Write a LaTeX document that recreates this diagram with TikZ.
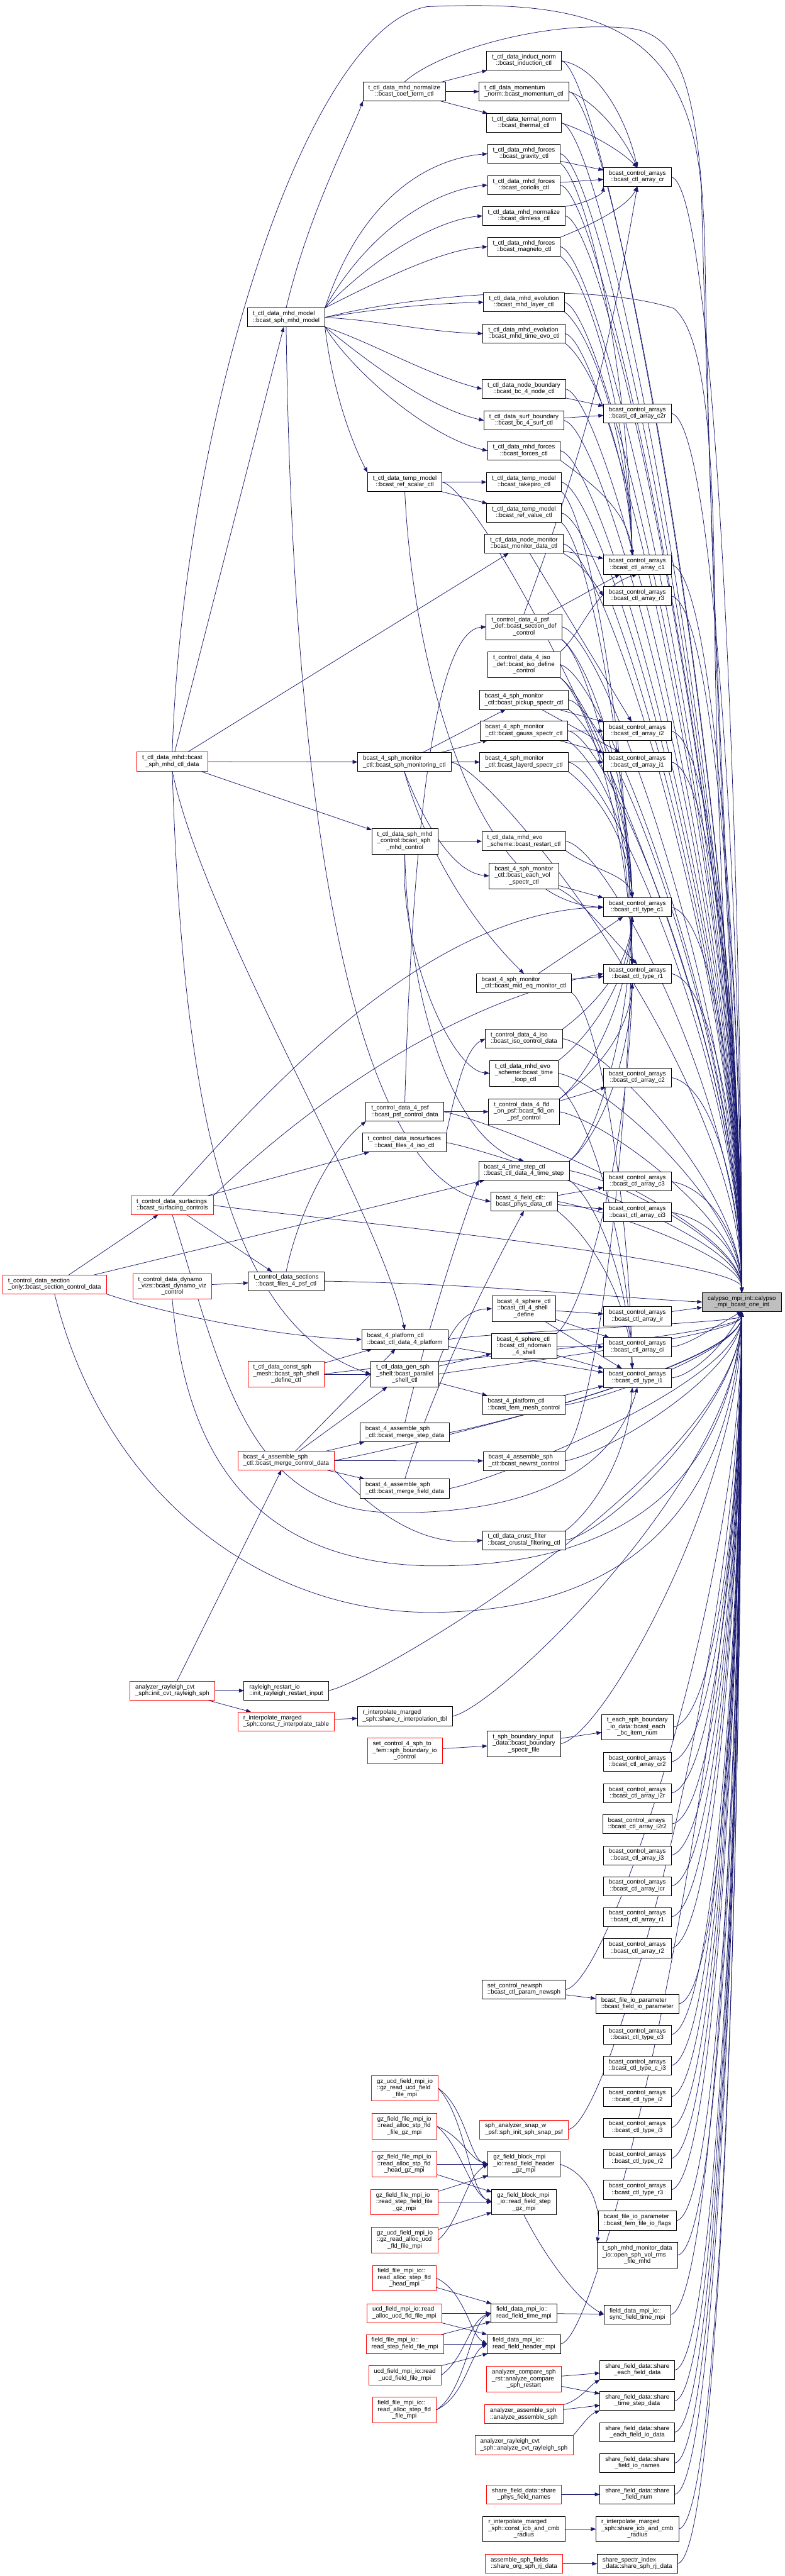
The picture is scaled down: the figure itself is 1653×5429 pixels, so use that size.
\documentclass[tikz,border=0pt]{standalone}
\usepackage{fontspec}
\setmainfont{Liberation Sans}
\usetikzlibrary{arrows.meta,calc}
\definecolor{edgec}{HTML}{191970}
\definecolor{redc}{HTML}{FF0000}
\definecolor{grayc}{HTML}{BFBFBF}
\newcommand\twol[2]{\begin{tabular}{@{}l@{}}#1\\\multicolumn{1}{@{}c@{}}{#2}\end{tabular}}
\newcommand\threel[3]{\begin{tabular}{@{}l@{}}#1\\#2\\\multicolumn{1}{@{}c@{}}{#3}\end{tabular}}
\newcommand\tocalA[1]{\draw[ed] let \p1=(#1.east), \p2=(cal.north) in (\p1) .. controls ($(\p1)+(70pt,-12pt)$) and (\x2,{0.6*\y2+0.4*\y1}) .. (\p2);}
\newcommand\tocalB[1]{\draw[ed] let \p1=(#1.east), \p2=(cal.south) in (\p1) .. controls ($(\p1)+(70pt,12pt)$) and (\x2,{0.6*\y2+0.4*\y1}) .. (\p2);}
\newcommand\dnto[2]{\draw[ed] let \p1=(#1.south east), \p2=(#2.north) in (\p1) .. controls ($(\p1)+(40pt,-30pt)$) and ({\x2-15pt},{0.5*\y1+0.5*\y2}) .. ({\x2-8pt},\y2);}
\newcommand\upto[2]{\draw[ed] let \p1=(#1.north east), \p2=(#2.south) in (\p1) .. controls ($(\p1)+(40pt,30pt)$) and ({\x2-15pt},{0.5*\y1+0.5*\y2}) .. ({\x2-8pt},\y2);}
\pgfdeclarelayer{bg}
\pgfdeclarelayer{edges}
\pgfsetlayers{bg,edges,main}
\begin{document}
\begin{tikzpicture}[x=0.75pt,y=0.75pt,
 nd/.style={draw=black,fill=white,line width=0.75pt,inner xsep=8.5pt,inner ysep=4.6pt,outer sep=0pt,font=\fontsize{9.7}{10.4}\selectfont},
 rd/.style={nd,draw=redc},
 ed/.style={draw=edgec,line width=0.75pt,-{Triangle[length=8pt,width=6pt]}}]
\begin{pgfonlayer}{bg}\fill[white] (0,0) rectangle (1653,-5429);\end{pgfonlayer}
\useasboundingbox (0,0) rectangle (1653,-5429);
% ---- root
\node[nd,fill=grayc] (cal) at (1563,-2744) {\twol{calypso\_mpi\_int::calypso}{\_mpi\_bcast\_one\_int}};
% ---- column F
\node[nd] (cr) at (1343,-373) {\twol{bcast\_control\_arrays}{::bcast\_ctl\_array\_cr}};
\node[nd] (ctwor) at (1343,-871) {\twol{bcast\_control\_arrays}{::bcast\_ctl\_array\_c2r}};
\node[nd] (cone) at (1343,-1190) {\twol{bcast\_control\_arrays}{::bcast\_ctl\_array\_c1}};
\node[nd] (rthree) at (1343,-1256) {\twol{bcast\_control\_arrays}{::bcast\_ctl\_array\_r3}};
\node[nd] (itwo) at (1343,-1541) {\twol{bcast\_control\_arrays}{::bcast\_ctl\_array\_i2}};
\node[nd] (ione) at (1343,-1606) {\twol{bcast\_control\_arrays}{::bcast\_ctl\_array\_i1}};
\node[nd] (tcone) at (1343,-1912) {\twol{bcast\_control\_arrays}{::bcast\_ctl\_type\_c1}};
\node[nd] (trone) at (1343,-2052) {\twol{bcast\_control\_arrays}{::bcast\_ctl\_type\_r1}};
\node[nd] (ctwo) at (1343,-2271) {\twol{bcast\_control\_arrays}{::bcast\_ctl\_array\_c2}};
\node[nd] (cthree) at (1343,-2490) {\twol{bcast\_control\_arrays}{::bcast\_ctl\_array\_c3}};
\node[nd] (cithree) at (1343,-2555) {\twol{bcast\_control\_arrays}{::bcast\_ctl\_array\_ci3}};
\node[nd] (ir) at (1343,-2774) {\twol{bcast\_control\_arrays}{::bcast\_ctl\_array\_ir}};
\node[nd] (ci) at (1343,-2839) {\twol{bcast\_control\_arrays}{::bcast\_ctl\_array\_ci}};
\node[nd] (tione) at (1343,-2904) {\twol{bcast\_control\_arrays}{::bcast\_ctl\_type\_i1}};
\node[nd] (bcitem) at (1343,-3640) {\threel{t\_each\_sph\_boundary}{\_io\_data::bcast\_each}{\_bc\_item\_num}};
\node[nd] (crtwo) at (1343,-3713) {\twol{bcast\_control\_arrays}{::bcast\_ctl\_array\_cr2}};
\node[nd] (itwor) at (1343,-3779) {\twol{bcast\_control\_arrays}{::bcast\_ctl\_array\_i2r}};
\node[nd] (itwortwo) at (1343,-3844) {\twol{bcast\_control\_arrays}{::bcast\_ctl\_array\_i2r2}};
\node[nd] (ithree) at (1343,-3910) {\twol{bcast\_control\_arrays}{::bcast\_ctl\_array\_i3}};
\node[nd] (icr) at (1343,-3975) {\twol{bcast\_control\_arrays}{::bcast\_ctl\_array\_icr}};
\node[nd] (rone) at (1343,-4040) {\twol{bcast\_control\_arrays}{::bcast\_ctl\_array\_r1}};
\node[nd] (rtwo) at (1343,-4106) {\twol{bcast\_control\_arrays}{::bcast\_ctl\_array\_r2}};
\node[nd] (fieldio) at (1343,-4223) {\twol{bcast\_file\_io\_parameter}{::bcast\_field\_io\_parameter}};
\node[nd] (tcthree) at (1343,-4288) {\twol{bcast\_control\_arrays}{::bcast\_ctl\_type\_c3}};
\node[nd] (tcithree) at (1343,-4353) {\twol{bcast\_control\_arrays}{::bcast\_ctl\_type\_c\_i3}};
\node[nd] (titwo) at (1343,-4419) {\twol{bcast\_control\_arrays}{::bcast\_ctl\_type\_i2}};
\node[nd] (tithree) at (1343,-4484) {\twol{bcast\_control\_arrays}{::bcast\_ctl\_type\_i3}};
\node[nd] (trtwo) at (1343,-4549) {\twol{bcast\_control\_arrays}{::bcast\_ctl\_type\_r2}};
\node[nd] (trthree) at (1343,-4615) {\twol{bcast\_control\_arrays}{::bcast\_ctl\_type\_r3}};
\node[nd] (femflags) at (1343,-4680) {\twol{bcast\_file\_io\_parameter}{::bcast\_fem\_file\_io\_flags}};
\node[nd] (openrms) at (1343,-4753) {\threel{t\_sph\_mhd\_monitor\_data}{\_io::open\_sph\_vol\_rms}{\_file\_mhd}};
\node[nd] (syncft) at (1343,-4878) {\twol{field\_data\_mpi\_io::}{sync\_field\_time\_mpi}};
\node[nd] (sheach) at (1343,-4995) {\twol{share\_field\_data::share}{\_each\_field\_data}};
\node[nd] (shtime) at (1343,-5060) {\twol{share\_field\_data::share}{\_time\_step\_data}};
\node[nd] (sheachio) at (1343,-5126) {\twol{share\_field\_data::share}{\_each\_field\_io\_data}};
\node[nd] (shionames) at (1343,-5191) {\twol{share\_field\_data::share}{\_field\_io\_names}};
\node[nd] (shnum) at (1343,-5257) {\twol{share\_field\_data::share}{\_field\_num}};
\node[nd] (shicb) at (1343,-5330) {\threel{r\_interpolate\_marged}{\_sph::share\_icb\_and\_cmb}{\_radius}};
\node[nd] (shrj) at (1343,-5403) {\twol{share\_spectr\_index}{\_data::share\_sph\_rj\_data}};
% ---- column E
\node[nd] (induct) at (1104,-128) {\twol{t\_ctl\_data\_induct\_norm}{::bcast\_induction\_ctl}};
\node[nd] (moment) at (1104,-193) {\twol{t\_ctl\_data\_momentum}{\_norm::bcast\_momentum\_ctl}};
\node[nd] (thermal) at (1104,-259) {\twol{t\_ctl\_data\_termal\_norm}{::bcast\_thermal\_ctl}};
\node[nd] (gravity) at (1104,-324) {\twol{t\_ctl\_data\_mhd\_forces}{::bcast\_gravity\_ctl}};
\node[nd] (coriolis) at (1104,-390) {\twol{t\_ctl\_data\_mhd\_forces}{::bcast\_coriolis\_ctl}};
\node[nd] (dimless) at (1104,-455) {\twol{t\_ctl\_data\_mhd\_normalize}{::bcast\_dimless\_ctl}};
\node[nd] (magneto) at (1104,-520) {\twol{t\_ctl\_data\_mhd\_forces}{::bcast\_magneto\_ctl}};
\node[nd] (layer) at (1104,-637) {\twol{t\_ctl\_data\_mhd\_evolution}{::bcast\_mhd\_layer\_ctl}};
\node[nd] (timeevo) at (1104,-703) {\twol{t\_ctl\_data\_mhd\_evolution}{::bcast\_mhd\_time\_evo\_ctl}};
\node[nd] (bcnode) at (1104,-820) {\twol{t\_ctl\_data\_node\_boundary}{::bcast\_bc\_4\_node\_ctl}};
\node[nd] (bcsurf) at (1104,-886) {\twol{t\_ctl\_data\_surf\_boundary}{::bcast\_bc\_4\_surf\_ctl}};
\node[nd] (forces) at (1104,-950) {\twol{t\_ctl\_data\_mhd\_forces}{::bcast\_forces\_ctl}};
\node[nd] (takepiro) at (1104,-1016) {\twol{t\_ctl\_data\_temp\_model}{::bcast\_takepiro\_ctl}};
\node[nd] (refvalue) at (1104,-1081) {\twol{t\_ctl\_data\_temp\_model}{::bcast\_ref\_value\_ctl}};
\node[nd] (nodemon) at (1104,-1146) {\twol{t\_ctl\_data\_node\_monitor}{::bcast\_monitor\_data\_ctl}};
\node[nd] (psfdef) at (1104,-1321) {\threel{t\_control\_data\_4\_psf}{\_def::bcast\_section\_def}{\_control}};
\node[nd] (isodef) at (1104,-1401) {\threel{t\_control\_data\_4\_iso}{\_def::bcast\_iso\_define}{\_control}};
\node[nd] (pickup) at (1104,-1475) {\twol{bcast\_4\_sph\_monitor}{\_ctl::bcast\_pickup\_spectr\_ctl}};
\node[nd] (gauss) at (1104,-1540) {\twol{bcast\_4\_sph\_monitor}{\_ctl::bcast\_gauss\_spectr\_ctl}};
\node[nd] (layerd) at (1104,-1606) {\twol{bcast\_4\_sph\_monitor}{\_ctl::bcast\_layerd\_spectr\_ctl}};
\node[nd] (restart) at (1104,-1773) {\twol{t\_ctl\_data\_mhd\_evo}{\_scheme::bcast\_restart\_ctl}};
\node[nd] (eachvol) at (1104,-1846) {\threel{bcast\_4\_sph\_monitor}{\_ctl::bcast\_each\_vol}{\_spectr\_ctl}};
\node[nd] (mideq) at (1104,-2072) {\twol{bcast\_4\_sph\_monitor}{\_ctl::bcast\_mid\_eq\_monitor\_ctl}};
\node[nd] (isoctl) at (1104,-2189) {\twol{t\_control\_data\_4\_iso}{::bcast\_iso\_control\_data}};
\node[nd] (timeloop) at (1104,-2262) {\threel{t\_ctl\_data\_mhd\_evo}{\_scheme::bcast\_time}{\_loop\_ctl}};
\node[nd] (fldpsf) at (1104,-2343) {\threel{t\_control\_data\_4\_fld}{\_on\_psf::bcast\_fld\_on}{\_psf\_control}};
\node[nd] (tstep) at (1104,-2467) {\twol{bcast\_4\_time\_step\_ctl}{::bcast\_ctl\_data\_4\_time\_step}};
\node[nd] (physdata) at (1104,-2532) {\twol{bcast\_4\_field\_ctl::}{bcast\_phys\_data\_ctl}};
\node[nd] (shelldef) at (1104,-2758) {\threel{bcast\_4\_sphere\_ctl}{::bcast\_ctl\_4\_shell}{\_define}};
\node[nd] (ndomain) at (1104,-2837) {\threel{bcast\_4\_sphere\_ctl}{::bcast\_ctl\_ndomain}{\_4\_shell}};
\node[nd] (femmesh) at (1104,-2961) {\twol{bcast\_4\_platform\_ctl}{::bcast\_fem\_mesh\_control}};
\node[nd] (newrst) at (1104,-3079) {\twol{bcast\_4\_assemble\_sph}{\_ctl::bcast\_newrst\_control}};
\node[nd] (crustal) at (1104,-3246) {\twol{t\_ctl\_data\_crust\_filter}{::bcast\_crustal\_filtering\_ctl}};
\node[nd] (bndspec) at (1104,-3675) {\threel{t\_sph\_boundary\_input}{\_data::bcast\_boundary}{\_spectr\_file}};
\node[nd] (newsph) at (1104,-4193) {\twol{set\_control\_newsph}{::bcast\_ctl\_param\_newsph}};
\node[rd] (snappsf) at (1104,-4488) {\twol{sph\_analyzer\_snap\_w}{\_psf::sph\_init\_sph\_snap\_psf}};
\node[nd] (fhgz) at (1104,-4561) {\threel{gz\_field\_block\_mpi}{\_io::read\_field\_header}{\_gz\_mpi}};
\node[nd] (fsgz) at (1104,-4641) {\threel{gz\_field\_block\_mpi}{\_io::read\_field\_step}{\_gz\_mpi}};
\node[nd] (ftime) at (1104,-4875) {\twol{field\_data\_mpi\_io::}{read\_field\_time\_mpi}};
\node[nd] (fheader) at (1104,-4940) {\twol{field\_data\_mpi\_io::}{read\_field\_header\_mpi}};
\node[rd] (compare) at (1104,-5014) {\threel{analyzer\_compare\_sph}{\_rst::analyze\_compare}{\_sph\_restart}};
\node[rd] (assemble) at (1104,-5088) {\twol{analyzer\_assemble\_sph}{::analyze\_assemble\_sph}};
\node[rd] (cvtsph) at (1104,-5153) {\twol{analyzer\_rayleigh\_cvt}{\_sph::analyze\_cvt\_rayleigh\_sph}};
\node[rd] (physnames) at (1104,-5257) {\twol{share\_field\_data::share}{\_phys\_field\_names}};
\node[nd] (consticb) at (1104,-5330) {\threel{r\_interpolate\_marged}{\_sph::const\_icb\_and\_cmb}{\_radius}};
\node[rd] (orgrj) at (1104,-5403) {\twol{assemble\_sph\_fields}{::share\_org\_sph\_rj\_data}};
% ---- column D
\node[nd] (coef) at (852,-193) {\twol{t\_ctl\_data\_mhd\_normalize}{::bcast\_coef\_term\_ctl}};
\node[nd] (refscalar) at (853,-1016) {\twol{t\_ctl\_data\_temp\_model}{::bcast\_ref\_scalar\_ctl}};
\node[nd] (monitoring) at (852,-1606) {\twol{bcast\_4\_sph\_monitor}{\_ctl::bcast\_sph\_monitoring\_ctl}};
\node[nd] (sphmhdctl) at (853,-1773) {\threel{t\_ctl\_data\_sph\_mhd}{\_control::bcast\_sph}{\_mhd\_control}};
\node[nd] (psfctl) at (853,-2343) {\twol{t\_control\_data\_4\_psf}{::bcast\_psf\_control\_data}};
\node[nd] (isofiles) at (852,-2408) {\twol{t\_control\_data\_isosurfaces}{::bcast\_files\_4\_iso\_ctl}};
\node[nd] (platform) at (853,-2823) {\twol{bcast\_4\_platform\_ctl}{::bcast\_ctl\_data\_4\_platform}};
\node[nd] (genshell) at (853,-2896) {\threel{t\_ctl\_data\_gen\_sph}{\_shell::bcast\_parallel}{\_shell\_ctl}};
\node[nd] (mstep) at (853,-3019) {\twol{bcast\_4\_assemble\_sph}{\_ctl::bcast\_merge\_step\_data}};
\node[nd] (mfield) at (853,-3137) {\twol{bcast\_4\_assemble\_sph}{\_ctl::bcast\_merge\_field\_data}};
\node[nd] (shrinterp) at (853,-3617) {\twol{r\_interpolate\_marged}{\_sph::share\_r\_interpolation\_tbl}};
\node[rd] (sphtofem) at (853,-3690) {\threel{set\_control\_4\_sph\_to}{\_fem::sph\_boundary\_io}{\_control}};
\node[rd] (gzucd) at (853,-4401) {\threel{gz\_ucd\_field\_mpi\_io}{::gz\_read\_ucd\_field}{\_file\_mpi}};
\node[rd] (gzstp) at (852,-4481) {\threel{gz\_field\_file\_mpi\_io}{::read\_alloc\_stp\_fld}{\_file\_gz\_mpi}};
\node[rd] (gzstphead) at (852,-4561) {\threel{gz\_field\_file\_mpi\_io}{::read\_alloc\_stp\_fld}{\_head\_gz\_mpi}};
\node[rd] (gzstep) at (852,-4641) {\threel{gz\_field\_file\_mpi\_io}{::read\_step\_field\_file}{\_gz\_mpi}};
\node[rd] (gzucdalloc) at (853,-4721) {\threel{gz\_ucd\_field\_mpi\_io}{::gz\_read\_alloc\_ucd}{\_fld\_file\_mpi}};
\node[rd] (allochead) at (852,-4801) {\threel{field\_file\_mpi\_io::}{read\_alloc\_step\_fld}{\_head\_mpi}};
\node[rd] (ucdalloc) at (852,-4875) {\twol{ucd\_field\_mpi\_io::read}{\_alloc\_ucd\_fld\_file\_mpi}};
\node[rd] (stepfile) at (853,-4940) {\twol{field\_file\_mpi\_io::}{read\_step\_field\_file\_mpi}};
\node[rd] (ucdfile) at (853,-5006) {\twol{ucd\_field\_mpi\_io::read}{\_ucd\_field\_file\_mpi}};
\node[rd] (allocfile) at (852,-5079) {\threel{field\_file\_mpi\_io::}{read\_alloc\_step\_fld}{\_file\_mpi}};
% ---- column C
\node[nd] (mhdmodel) at (603,-669) {\twol{t\_ctl\_data\_mhd\_model}{::bcast\_sph\_mhd\_model}};
\node[nd] (sections) at (603,-2700) {\twol{t\_control\_data\_sections}{::bcast\_files\_4\_psf\_ctl}};
\node[rd] (constmesh) at (603,-2896) {\threel{t\_ctl\_data\_const\_sph}{\_mesh::bcast\_sph\_shell}{\_define\_ctl}};
\node[rd] (mergectl) at (603,-3078) {\twol{bcast\_4\_assemble\_sph}{\_ctl::bcast\_merge\_control\_data}};
\node[nd] (rstinput) at (603,-3563) {\twol{rayleigh\_restart\_io}{::init\_rayleigh\_restart\_input}};
\node[rd] (constrinterp) at (603,-3628) {\twol{r\_interpolate\_marged}{\_sph::const\_r\_interpolate\_table}};
% ---- column B / A
\node[rd] (mhdctl) at (363,-1605) {\twol{t\_ctl\_data\_mhd::bcast}{\_sph\_mhd\_ctl\_data}};
\node[rd] (surfacing) at (363,-2540) {\twol{t\_control\_data\_surfacings}{::bcast\_surfacing\_controls}};
\node[rd] (dynamo) at (363,-2711) {\threel{t\_control\_data\_dynamo}{\_vizs::bcast\_dynamo\_viz}{\_control}};
\node[rd] (initcvt) at (363,-3563) {\twol{analyzer\_rayleigh\_cvt}{\_sph::init\_cvt\_rayleigh\_sph}};
\node[rd] (secOnly) at (115,-2707) {\twol{t\_control\_data\_section}{\_only::bcast\_section\_control\_data}};
% ================= edges
\begin{pgfonlayer}{edges}
\foreach \s in {cr,ctwor,cone,rthree,itwo,ione,tcone,trone,ctwo,cthree,cithree,induct,moment,thermal,gravity,coriolis,dimless,magneto,layer,timeevo,bcnode,bcsurf,forces,takepiro,refvalue,nodemon,psfdef,isodef,pickup,gauss,layerd,restart,isoctl,timeloop,fldpsf,tstep,physdata,refscalar,monitoring,psfctl,isofiles,surfacing}{\tocalA{\s}}
\foreach \s in {bcitem,crtwo,itwor,itwortwo,ithree,icr,rone,rtwo,fieldio,tcthree,tcithree,titwo,tithree,trtwo,trthree,femflags,openrms,syncft,sheach,shtime,sheachio,shionames,shnum,shicb,shrj,femmesh,newrst,crustal,bndspec,newsph,fheader,snappsf,platform,genshell,mstep,mfield,shrinterp,constmesh,mergectl,rstinput}{\tocalB{\s}}
\draw[ed] (ir) -- (cal);
\draw[ed] (ci.east) .. controls (1450,-2835) and (1500,-2800) .. (cal.south);
\draw[ed] (tione.east) .. controls (1460,-2900) and (1530,-2830) .. (cal.south);
\draw[ed] (sections.east) .. controls (1000,-2705) and (1300,-2735) .. (cal.west);
\draw[ed] (mhdctl.north) .. controls (385,-900) and (640,-60) .. (900,-14) .. controls (1230,0) and (1450,-40) .. (1478,-400) .. controls (1505,-1500) and (1560,-2300) .. (cal.north);
\draw[ed] (coef.north) .. controls (920,-110) and (1150,-40) .. (1330,-60) .. controls (1440,-75) and (1470,-200) .. (1485,-500) .. controls (1500,-1500) and (1558,-2300) .. (cal.north);
\draw[ed] (mhdmodel.east) .. controls (900,-615) and (1250,-595) .. (1420,-650) .. controls (1480,-700) and (1500,-900) .. (1505,-1200) .. controls (1510,-2000) and (1560,-2400) .. (cal.north);
\draw[ed] (secOnly.south) .. controls (220,-3150) and (550,-3395) .. (900,-3398) .. controls (1300,-3400) and (1540,-3200) .. (cal.south);
\draw[ed] (dynamo.south) .. controls (390,-3050) and (520,-3290) .. (900,-3300) .. controls (1280,-3305) and (1535,-3150) .. (cal.south);
% upper part
\draw[ed] (coef) -- (induct);
\draw[ed] (coef) -- (moment);
\draw[ed] (coef) -- (thermal);
\draw[ed] (mhdmodel.north) .. controls (650,-450) and (740,-280) .. (coef.south west);
\draw[ed] (mhdmodel.north east) .. controls (760,-420) and (900,-335) .. (gravity.west);
\draw[ed] (mhdmodel.north east) .. controls (780,-480) and (920,-400) .. (coriolis.west);
\draw[ed] (mhdmodel.north east) .. controls (800,-530) and (930,-462) .. (dimless.west);
\draw[ed] (mhdmodel.north east) .. controls (820,-580) and (940,-525) .. (magneto.west);
\draw[ed] (mhdmodel.east) .. controls (800,-650) and (900,-640) .. (layer.west);
\draw[ed] (mhdmodel.east) .. controls (800,-675) and (900,-700) .. (timeevo.west);
\draw[ed] (mhdmodel.south east) .. controls (780,-720) and (900,-790) .. (bcnode.west);
\draw[ed] (mhdmodel.south east) .. controls (760,-750) and (900,-860) .. (bcsurf.west);
\draw[ed] (mhdmodel.south east) .. controls (740,-780) and (900,-920) .. (forces.west);
\draw[ed] (mhdmodel.south east) .. controls (700,-820) and (740,-930) .. (refscalar.north west);
\draw[ed] (mhdmodel.south) .. controls (615,-1600) and (720,-2480) .. (physdata.west);
\draw[ed] (induct.east) .. controls (1260,-140) and (1320,-250) .. (cr.north);
\draw[ed] (moment.east) .. controls (1250,-210) and (1310,-280) .. (cr.north);
\draw[ed] (thermal.east) .. controls (1230,-275) and (1300,-310) .. (cr.north);
\draw[ed] (gravity) -- (cr);
\draw[ed] (coriolis) -- (cr);
\draw[ed] (dimless.north east) .. controls (1230,-430) and (1270,-410) .. (cr.south west);
\draw[ed] (magneto.north east) .. controls (1230,-480) and (1320,-440) .. (cr.south);
\dnto{gravity}{cone}
\dnto{magneto}{cone}
\dnto{layer}{cone}
\dnto{timeevo}{cone}
\dnto{forces}{cone}
\draw[ed] (bcnode) -- (ctwor);
\draw[ed] (bcsurf) -- (ctwor);
\draw[ed] (refscalar) -- (takepiro);
\draw[ed] (refscalar) -- (refvalue);
\draw[ed] (refscalar.south) .. controls (870,-1400) and (1000,-1900) .. (tcone.west);
\dnto{takepiro}{trone}
\dnto{refvalue}{trone}
\draw[ed] (nodemon) -- (cone);
\draw[ed] (nodemon.south east) .. controls (1230,-1190) and (1260,-1240) .. (rthree.west);
\draw[ed] (nodemon) -- (itwo);
% monitors
\draw[ed] (mhdctl) -- (mhdmodel);
\draw[ed] (mhdctl) -- (nodemon);
\draw[ed] (mhdctl) -- (monitoring);
\draw[ed] (mhdctl) -- (sphmhdctl);
\draw[ed] (mhdctl.south) .. controls (385,-2300) and (470,-2790) .. (genshell.west);
\draw[ed] (mhdctl.south) .. controls (430,-1950) and (800,-2550) .. (platform.north);
\draw[ed] (psfdef.north) .. controls (1230,-950) and (1280,-760) .. (cr.south);
\draw[ed] (psfdef) -- (cone);
\dnto{psfdef}{tcone}
\dnto{psfdef}{trone}
\draw[ed] (isodef.north east) .. controls (1230,-1330) and (1250,-1240) .. (cone.south);
\dnto{isodef}{tcone}
\dnto{isodef}{trone}
\draw[ed] (pickup) -- (itwo);
\draw[ed] (pickup) -- (ione);
\dnto{pickup}{tcone}
\draw[ed] (gauss) -- (itwo);
\draw[ed] (gauss) -- (ione);
\dnto{gauss}{tcone}
\draw[ed] (layerd) -- (ione);
\dnto{layerd}{tcone}
\draw[ed] (monitoring) -- (pickup);
\draw[ed] (monitoring) -- (gauss);
\draw[ed] (monitoring) -- (layerd);
\draw[ed] (monitoring.south) .. controls (900,-1750) and (960,-1840) .. (eachvol.west);
\draw[ed] (monitoring.south) .. controls (900,-1800) and (1000,-1950) .. (mideq.north);
\draw[ed] (sphmhdctl) -- (restart);
\draw[ed] (sphmhdctl.south) .. controls (840,-2000) and (950,-2255) .. (timeloop.west);
\draw[ed] (sphmhdctl.south) .. controls (860,-2100) and (950,-2400) .. (tstep.north);
\dnto{restart}{tcone}
\draw[ed] (eachvol) -- (tcone);
\draw[ed] (eachvol.south east) .. controls (1230,-1900) and (1290,-1980) .. (trone.north);
\draw[ed] (mideq) -- (trone);
\draw[ed] (mideq) -- (tcone);
\dnto{mideq}{tione}
\upto{isoctl}{tcone}
\upto{timeloop}{tcone}
\dnto{timeloop}{tione}
\draw[ed] (fldpsf) -- (ctwo);
\upto{fldpsf}{tcone}
\upto{fldpsf}{trone}
\draw[ed] (psfctl) -- (fldpsf);
\draw[ed] (psfctl.north) .. controls (865,-1900) and (900,-1330) .. (psfdef.west);
\draw[ed] (isofiles.north east) .. controls (960,-2300) and (980,-2210) .. (isoctl.west);
\upto{tstep}{tcone}
\upto{tstep}{trone}
\dnto{tstep}{tione}
\draw[ed] (physdata) -- (cthree);
\draw[ed] (physdata) -- (cithree);
\dnto{physdata}{tione}
% lower-left callers
\draw[ed] (surfacing) -- (isofiles);
\draw[ed] (surfacing) -- (sections);
\draw[ed] (surfacing.north) .. controls (560,-2300) and (900,-1920) .. (tcone.west);
\draw[ed] (surfacing.north east) .. controls (700,-2280) and (1000,-2100) .. (trone.west);
\draw[ed] (surfacing.south) .. controls (470,-2900) and (520,-3185) .. (830,-3188) .. controls (1150,-3190) and (1300,-3080) .. (tione.south);
\draw[ed] (secOnly) -- (surfacing);
\draw[ed] (secOnly) -- (tstep);
\draw[ed] (secOnly.south east) .. controls (350,-2770) and (600,-2820) .. (platform.west);
\draw[ed] (dynamo) -- (sections);
\draw[ed] (sections.north) .. controls (630,-2550) and (700,-2420) .. (psfctl.south west);
\draw[ed] (constmesh) -- (genshell);
\draw[ed] (constmesh) -- (platform);
\draw[ed] (mergectl) -- (platform);
\draw[ed] (mergectl) -- (genshell);
\draw[ed] (mergectl) -- (mstep);
\draw[ed] (mergectl) -- (mfield);
\draw[ed] (mergectl) -- (newrst);
\draw[ed] (mergectl.south east) .. controls (800,-3200) and (900,-3260) .. (crustal.west);
\draw[ed] (genshell.north east) .. controls (950,-2800) and (980,-2760) .. (shelldef.west);
\draw[ed] (genshell) -- (ndomain);
\draw[ed] (genshell) -- (femmesh);
\draw[ed] (platform) -- (tione);
\draw[ed] (shelldef) -- (ir);
\draw[ed] (shelldef) -- (ci);
\draw[ed] (shelldef) -- (tione);
\draw[ed] (ndomain) -- (ci);
\draw[ed] (ndomain) -- (tione);
\upto{ndomain}{trone}
\draw[ed] (femmesh) -- (tione);
\upto{newrst}{tcone}
\upto{crustal}{tione}
\draw[ed] (mstep.north) .. controls (900,-2800) and (980,-2560) .. (tstep.south west);
\draw[ed] (mfield.north) .. controls (920,-2900) and (1050,-2650) .. (physdata.south);
\draw[ed] (initcvt) -- (mergectl);
\draw[ed] (initcvt) -- (rstinput);
\draw[ed] (initcvt) -- (constrinterp);
\draw[ed] (constrinterp) -- (shrinterp);
\draw[ed] (sphtofem) -- (bndspec);
\draw[ed] (bndspec) -- (bcitem);
\draw[ed] (newsph) -- (fieldio);
% field io block
\draw[ed] (gzucd.east) .. controls (980,-4440) and (990,-4550) .. (fhgz.west);
\draw[ed] (gzucd.east) .. controls (980,-4460) and (990,-4620) .. (fsgz.west);
\draw[ed] (gzstp.east) .. controls (970,-4500) and (990,-4550) .. (fhgz.west);
\draw[ed] (gzstp.east) .. controls (970,-4520) and (990,-4620) .. (fsgz.west);
\draw[ed] (gzstphead) -- (fhgz);
\draw[ed] (gzstphead) -- (fsgz);
\draw[ed] (gzstep) -- (fhgz);
\draw[ed] (gzstep) -- (fsgz);
\draw[ed] (gzucdalloc.east) .. controls (970,-4680) and (980,-4590) .. (fhgz.west);
\draw[ed] (gzucdalloc) -- (fsgz);
\draw[ed] (allochead) -- (ftime);
\draw[ed] (allochead.east) .. controls (980,-4830) and (990,-4920) .. (fheader.west);
\draw[ed] (ucdalloc) -- (ftime);
\draw[ed] (ucdalloc) -- (fheader);
\draw[ed] (stepfile) -- (ftime);
\draw[ed] (stepfile) -- (fheader);
\draw[ed] (ucdfile.east) .. controls (980,-4970) and (990,-4890) .. (ftime.west);
\draw[ed] (ucdfile) -- (fheader);
\draw[ed] (allocfile.east) .. controls (980,-5040) and (990,-4900) .. (ftime.west);
\draw[ed] (allocfile.east) .. controls (980,-5050) and (990,-4960) .. (fheader.west);
\draw[ed] (fhgz.east) .. controls (1240,-4580) and (1270,-4650) .. (openrms.north west);
\draw[ed] (fsgz.south) .. controls (1150,-4760) and (1220,-4850) .. (syncft.west);
\draw[ed] (ftime) -- (syncft);
\draw[ed] (compare) -- (sheach);
\draw[ed] (compare) -- (shtime);
\draw[ed] (assemble.north east) .. controls (1220,-5060) and (1240,-5030) .. (sheach.south west);
\draw[ed] (assemble) -- (shtime);
\draw[ed] (cvtsph.north east) .. controls (1220,-5120) and (1240,-5090) .. (shtime.south west);
\draw[ed] (physnames) -- (shnum);
\draw[ed] (consticb) -- (shicb);
\draw[ed] (orgrj) -- (shrj);
\end{pgfonlayer}
\end{tikzpicture}
\end{document}
